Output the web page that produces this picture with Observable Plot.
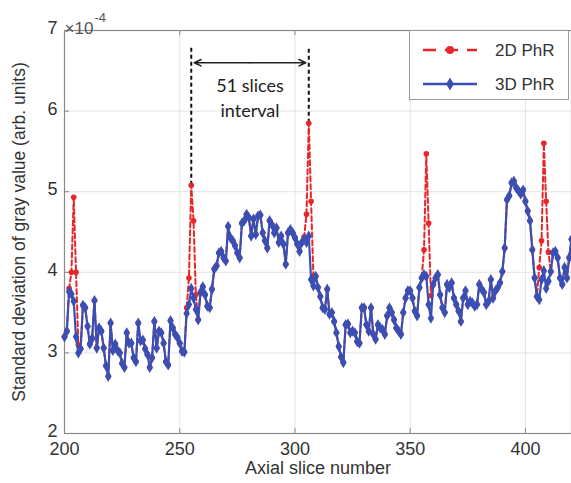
<!DOCTYPE html>
<html><head><meta charset="utf-8">
<script src="https://cdn.jsdelivr.net/npm/d3@7"></script>
<script src="https://cdn.jsdelivr.net/npm/@observablehq/plot@0.6"></script>
<style>
html,body{margin:0;padding:0;background:#fff;}
#wrap{position:relative;width:571px;height:483px;overflow:hidden;}
#legend{position:absolute;left:409px;top:30px;width:160px;height:70px;border:1px solid #9a9a9a;background:#fff;box-sizing:border-box;}
</style></head><body><div id="wrap"><div id="plot"></div><div id="legend"></div></div>
<script>
// ---- data ----
const firstSlice = 200;
const series3D = [
3.20,3.27,3.76,3.73,3.64,3.20,3.00,3.05,3.59,3.56, // 200-209
3.33,3.11,3.18,3.65,3.06,3.31,3.27,3.06,2.84,2.71, // 210-219
3.37,3.03,3.11,3.03,3.00,2.87,2.82,3.25,3.12,3.12, // 220-229
2.94,2.89,3.37,3.15,3.16,3.05,2.98,2.82,2.94,3.39, // 230-239
3.06,3.27,3.25,3.12,2.89,2.85,3.40,3.31,3.23,3.19, // 240-249
3.12,3.02,3.01,3.49,3.60,3.80,3.68,3.54,3.41,3.75, // 250-259
3.82,3.72,3.58,3.56,3.79,4.04,4.08,4.24,4.26,4.18, // 260-269
4.14,4.57,4.43,4.39,4.33,4.24,4.18,4.61,4.64,4.72, // 270-279
4.68,4.45,4.66,4.47,4.70,4.71,4.49,4.39,4.30,4.64, // 280-289
4.59,4.49,4.55,4.37,4.45,4.35,4.10,4.49,4.53,4.49, // 290-299
4.43,4.35,4.26,4.37,4.41,4.37,4.45,3.91,3.83,3.95, // 300-309
3.81,3.70,3.56,3.54,3.79,3.48,3.50,3.39,3.25,3.08, // 310-319
2.95,2.88,3.35,3.36,3.25,3.27,3.25,3.14,3.12,3.56, // 320-329
3.56,3.35,3.27,3.56,3.23,3.17,3.35,3.31,3.29,3.23, // 330-339
3.46,3.56,3.50,3.41,3.31,3.27,3.23,3.50,3.68,3.77, // 340-349
3.77,3.68,3.52,3.46,3.81,3.93,3.97,3.95,3.60,3.43, // 350-359
3.85,3.93,3.97,3.72,3.56,3.50,3.85,3.81,3.87,3.68, // 360-369
3.60,3.52,3.39,3.68,3.77,3.60,3.64,3.62,3.58,3.60, // 370-379
3.85,3.79,3.75,3.60,3.64,3.91,3.68,3.77,3.81,3.87, // 380-389
4.01,4.30,4.90,4.95,5.11,5.13,5.05,5.01,4.97,5.02, // 390-399
4.88,4.76,4.64,4.28,3.93,3.70,3.66,3.91,4.02,3.80, // 400-409
3.89,4.01,4.24,4.26,4.18,3.93,3.85,4.06,3.93,4.18, // 410-419
4.41                                                // 420
];
// 2D PhR: equal to 3D except at the periodic peaks
const peakSlices2D = [202,203,204,205,206, 253,254,255,256,257, 304,305,306,307,308, 356,357,358,359, 406,407,408,409,410];
const peakValues2D = [3.80,4.00,4.93,4.00,3.10, 3.56,3.93,5.08,4.64,3.72, 4.44,4.72,5.85,4.88,3.95, 4.28,5.47,4.61,3.71, 4.06,4.39,5.60,4.88,4.25];
const xTicks = [200,250,300,350,400];
const yTicks = [2,3,4,5,6,7];
const seriesNames = ["2D PhR","3D PhR"];
const seriesColors = ["#e8262a","#3a4fb4"];
const intervalLines = [255, 306];
const intervalTop = 6.8;
const arrowSpan = [256.3, 304.7];
const arrowY = 6.6;
const intervalLabel = "51 slices\ninterval";
const intervalLabelPos = {x: 280.5, y: 6.18};

// ---- build tables ----
const data3D = series3D.map((v,i)=>({x:firstSlice+i, y:v}));
const peakMap = new Map(peakSlices2D.map((s,i)=>[s, peakValues2D[i]]));
const data2D = data3D.map(d=>({x:d.x, y: peakMap.has(d.x) ? peakMap.get(d.x) : d.y}));
const intervalRules = intervalLines.map(s=>({x:s, y1: peakMap.get(s), y2: intervalTop}));
const mid = (arrowSpan[0]+arrowSpan[1])/2;

const W = 571, H = 483, mL = 64, mR = 0, mT = 30, mB = 50;
const plotH = H - mT - mB, plotW = W - mL - mR;
const axisColor = "#8a8a8a", textColor = "#333";

const chart = Plot.plot({
  width: W, height: H,
  marginLeft: mL, marginRight: mR, marginTop: mT, marginBottom: mB,
  style: {fontFamily: "'Liberation Sans', Arial, sans-serif", fontSize: "18px", color: textColor, background: "#fff", overflow: "visible"},
  x: {domain: [200, 420]},
  y: {domain: [2, 7]},
  marks: [
    Plot.gridX(xTicks, {stroke: "#e3e3e3", strokeOpacity: 1}),
    Plot.gridY(yTicks, {stroke: "#e3e3e3", strokeOpacity: 1}),
    Plot.frame({stroke: axisColor, strokeWidth: 1.2}),
    Plot.tickX(xTicks, {x: d=>d, insetTop: plotH - 5, stroke: axisColor}),
    Plot.tickX(xTicks, {x: d=>d, insetBottom: plotH - 5, stroke: axisColor}),
    Plot.tickY(yTicks, {y: d=>d, insetRight: plotW - 5, stroke: axisColor}),
    Plot.axisX(xTicks, {tickSize: 0, tickPadding: 9, label: null, fontSize: 18, fill: textColor}),
    Plot.axisY(yTicks, {tickSize: 0, tickPadding: 7, dy: -2, tickFormat: d=>String(d), label: null, fontSize: 18, fill: textColor}),
    Plot.axisX({label: "Axial slice number", ticks: [], tickSize: 0, labelAnchor: "center", labelArrow: "none", labelOffset: 40, fontSize: 18, fill: textColor}),
    Plot.axisY({label: "Standard deviation of gray value (arb. units)", ticks: [], tickSize: 0, labelAnchor: "center", labelArrow: "none", labelOffset: 52, fontSize: 17.5, fill: textColor}),
    Plot.text(["×10"], {frameAnchor: "top-left", textAnchor: "start", dx: 0, dy: -9, fontSize: 17, fill: "#555"}),
    Plot.text(["-4"], {frameAnchor: "top-left", textAnchor: "start", dx: 30, dy: -18, fontSize: 13, fill: "#555"}),
    // annotation
    Plot.ruleX(intervalRules, {x: "x", y1: "y1", y2: "y2", stroke: "#111", strokeWidth: 2, strokeDasharray: "4,3"}),
    Plot.arrow([0,1], {x1: mid, x2: i=>arrowSpan[i], y1: arrowY, y2: arrowY, stroke: "#222", strokeWidth: 1.6, headLength: 7, headAngle: 50}),
    Plot.text([intervalLabel], {x: intervalLabelPos.x, y: intervalLabelPos.y, fontFamily: "Lato, 'Open Sans', sans-serif", fontSize: 18, fill: "#222", lineHeight: 1.35}),
    // series
    Plot.line(data2D, {x: "x", y: "y", stroke: seriesColors[0], strokeWidth: 2, strokeDasharray: "5,3"}),
    Plot.dot(data2D, {x: "x", y: "y", fill: seriesColors[0], r: 2.8, stroke: null}),
    Plot.line(data3D, {x: "x", y: "y", stroke: seriesColors[1], strokeWidth: 2.2}),
    Plot.dot(data3D, {x: "x", y: "y", fill: seriesColors[1], symbol: "diamond", r: 3.4, stroke: null})
  ]
});
document.getElementById("plot").appendChild(chart);

// legend (HTML overlay inside the axes)
const lg = d3.select("#legend").append("svg").attr("width", 158).attr("height", 68);
seriesNames.forEach((name, i) => {
  const cy = i === 0 ? 19 : 53;
  const g = lg.append("g");
  g.append("line").attr("x1", 13).attr("x2", 67).attr("y1", cy).attr("y2", cy)
    .attr("stroke", seriesColors[i]).attr("stroke-width", 2.5)
    .attr("stroke-dasharray", i === 0 ? "13,9" : null);
  if (i === 0) g.append("circle").attr("cx", 40).attr("cy", cy).attr("r", 4).attr("fill", seriesColors[i]);
  else g.append("path").attr("d", d3.symbol(d3.symbolDiamond, 50)()).attr("transform", `translate(40,${cy})`).attr("fill", seriesColors[i]);
  g.append("text").attr("x", 85).attr("y", cy).attr("dy", "0.35em")
    .attr("font-family", "'Liberation Sans', Arial, sans-serif").attr("font-size", 17).attr("fill", textColor).text(name);
});
</script></body></html>
